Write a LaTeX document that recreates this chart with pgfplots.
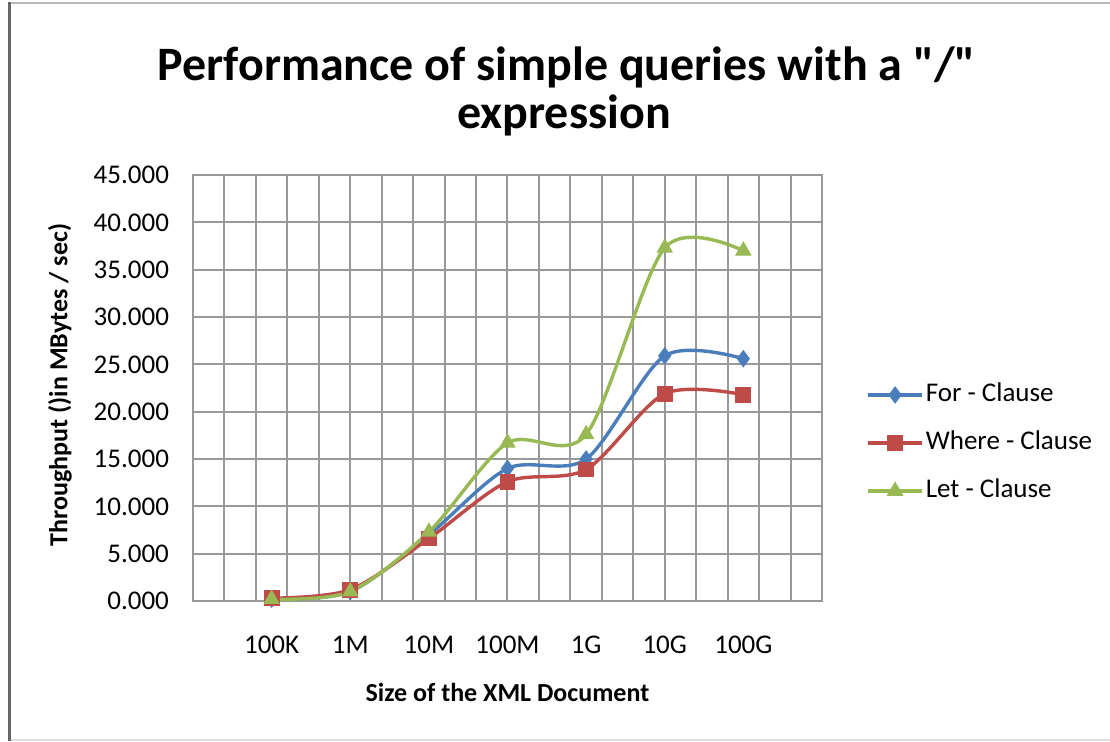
\documentclass[border=0pt]{standalone}
\usepackage{fontspec}
\setmainfont{Carlito}
\newfontfamily\titlefont{Carlito}[Ligatures=TeXOff]
\usepackage{pgfplots}
\pgfplotsset{compat=1.18}
\definecolor{forc}{HTML}{4A7EBB}
\definecolor{wherec}{HTML}{BE4B48}
\definecolor{letc}{HTML}{98B954}
\definecolor{gridc}{HTML}{999999}
\begin{document}
\begin{tikzpicture}
\useasboundingbox (0,0) rectangle (555pt,-370.5pt);
\fill[white] (0,0) rectangle (555pt,-370.5pt);
\draw[gray!55, line width=1pt] (4.5pt,-1.5pt) -- (555pt,-1.5pt);
\draw[gray!25, line width=1pt] (4.5pt,-369.8pt) -- (555pt,-369.8pt);
\draw[gray!80!black, line width=1.5pt] (4.5pt,-1pt) -- (4.5pt,-370.5pt);
\node[font=\titlefont\bfseries\fontsize{24}{28}\selectfont, anchor=base] at (283.5pt,-40pt) {Performance of simple queries with a "/"};
\node[font=\titlefont\bfseries\fontsize{24}{28}\selectfont, anchor=base] at (282pt,-64pt) {expression};
\begin{axis}[
  at={(96.5pt,-300.5pt)}, anchor=south west,
  scale only axis, width=314.5pt, height=213pt,
  xmin=0, xmax=8, ymin=0, ymax=45,
  xtick={1,2,3,4,5,6,7},
  xticklabels={100K,1M,10M,100M,1G,10G,100G},
  minor xtick={0,0.4,...,8.01},
  xmajorgrids=false, xminorgrids=true, ymajorgrids=true,
  ytick={0,5,...,45},
  major tick length=0pt, minor tick length=0pt,
  grid style={draw=gridc, line width=1pt},
  minor grid style={draw=gridc, line width=1pt},
  axis line style={draw=gridc, line width=1pt},
  tick label style={font=\fontsize{13.5}{15}\selectfont},
  yticklabel style={xshift=-8.5pt},
  xticklabel style={yshift=-14pt},
  /pgf/number format/.cd, fixed, fixed zerofill, precision=3, assume math mode=true,
  /pgfplots/.cd,
  ylabel={Throughput ()in MBytes / sec)},
  xlabel={Size of the XML Document},
  label style={font=\bfseries\fontsize{13}{15}\selectfont},
  ylabel style={at={(rel axis cs:-0.2115,0.507)}, rotate=0, anchor=center},
  xlabel style={at={(rel axis cs:0.5,-0.2136)}, anchor=center},
  legend style={draw=none, fill=none, at={(rel axis cs:1.07,0.371)}, anchor=west, inner sep=0pt,
    font=\fontsize{13.5}{15}\selectfont, row sep=9pt,
    nodes={inner sep=1pt, text height=10pt, text depth=3pt}},
  legend cell align=left,
  legend image code/.code={\draw[mark repeat=2,mark phase=2] plot coordinates {(0pt,0pt)(13.5pt,0pt)(27pt,0pt)};},
  every axis plot/.append style={line width=1.7pt, smooth, tension=0.5},
]
\addplot[color=forc, mark=diamond*, mark size=4pt, mark options={solid, fill=forc, draw=forc, line width=0.5pt}]
  coordinates {(1,0.2)(2,1.0)(3,7.0)(4,14.0)(5,15.0)(6,25.9)(7,25.6)};
\addlegendentry{For - Clause}
\addplot[color=wherec, mark=square*, mark size=3.7pt, mark options={solid, fill=wherec, draw=wherec, line width=0.5pt}]
  coordinates {(1,0.3)(2,1.2)(3,6.6)(4,12.6)(5,13.9)(6,21.9)(7,21.8)};
\addlegendentry{Where - Clause}
\addplot[color=letc, mark=triangle*, mark size=4.3pt, mark options={solid, fill=letc, draw=letc, line width=0.5pt}]
  coordinates {(1,0.2)(2,1.0)(3,7.3)(4,16.7)(5,17.6)(6,37.3)(7,37.0)};
\addlegendentry{Let - Clause}
\end{axis}
\end{tikzpicture}
\end{document}
